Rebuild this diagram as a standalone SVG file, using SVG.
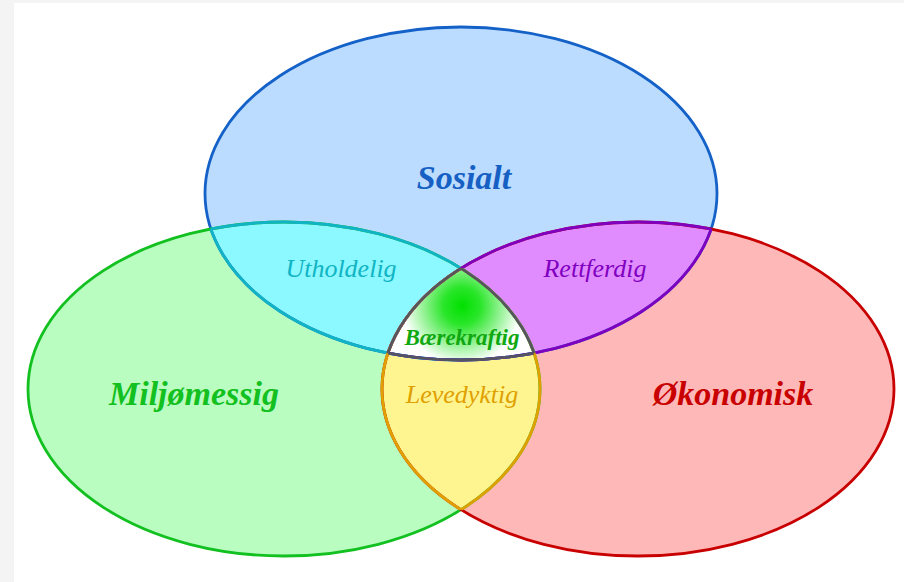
<svg xmlns="http://www.w3.org/2000/svg" width="904" height="582" viewBox="0 0 904 582">
<style>
.lbl{font-family:"Liberation Serif","Times New Roman",serif;font-style:italic;text-anchor:middle}
.big{font-size:34px;font-weight:bold}
.mid{font-size:26px}
.sw{stroke-width:2.8;fill:none}
</style>
<defs>
<clipPath id="cT"><ellipse cx="461" cy="193.5" rx="256" ry="166.5"/></clipPath>
<clipPath id="cL"><ellipse cx="284" cy="389" rx="256" ry="167"/></clipPath>
<clipPath id="cR"><ellipse cx="638" cy="389" rx="256" ry="167"/></clipPath>
<radialGradient id="gC" gradientUnits="userSpaceOnUse" cx="462" cy="306" r="62">
<stop offset="0" stop-color="#00e000"/>
<stop offset="0.3" stop-color="#2ae62a"/>
<stop offset="0.95" stop-color="#ffffff"/>
<stop offset="1" stop-color="#ffffff"/>
</radialGradient>
<ellipse id="eT" cx="461" cy="193.5" rx="256" ry="166.5"/>
<ellipse id="eL" cx="284" cy="389" rx="256" ry="167"/>
<ellipse id="eR" cx="638" cy="389" rx="256" ry="167"/>
</defs>
<rect width="904" height="582" fill="#f4f4f4"/>
<rect x="14" y="3" width="890" height="579" fill="#ffffff"/>

<g id="sosialt">
<use href="#eT" fill="#bbdcff"/>
</g>
<g id="miljomessig">
<use href="#eL" fill="#b9fdc0"/>
</g>
<g id="okonomisk">
<use href="#eR" fill="#ffb8b8"/>
</g>
<g id="utholdelig">
<use href="#eT" fill="#8cf8ff" clip-path="url(#cL)"/>
</g>
<g id="rettferdig">
<use href="#eT" fill="#e08cff" clip-path="url(#cR)"/>
</g>
<g id="levedyktig">
<use href="#eL" fill="#fff590" clip-path="url(#cR)"/>
</g>
<g id="baerekraftig" clip-path="url(#cL)">
<use href="#eT" fill="url(#gC)" clip-path="url(#cR)"/>
</g>

<g id="connectors">
<use href="#eT" class="sw" stroke="#1461c8"/>
<use href="#eL" class="sw" stroke="#12c020"/>
<use href="#eR" class="sw" stroke="#c80000"/>
<use href="#eT" class="sw" stroke="#10b4c4" clip-path="url(#cL)"/>
<use href="#eL" class="sw" stroke="#10b4c4" clip-path="url(#cT)"/>
<use href="#eT" class="sw" stroke="#8000c0" clip-path="url(#cR)"/>
<use href="#eR" class="sw" stroke="#8000c0" clip-path="url(#cT)"/>
<use href="#eL" class="sw" stroke="#e0a000" clip-path="url(#cR)"/>
<use href="#eR" class="sw" stroke="#e0a000" clip-path="url(#cL)"/>
<g clip-path="url(#cL)"><use href="#eT" class="sw" stroke="#555560" clip-path="url(#cR)"/></g>
<g clip-path="url(#cT)"><use href="#eL" class="sw" stroke="#555560" clip-path="url(#cR)"/></g>
<g clip-path="url(#cT)"><use href="#eR" class="sw" stroke="#555560" clip-path="url(#cL)"/></g>
</g>

<g id="labels">
<text class="lbl big" x="464" y="189" fill="#1660c4">Sosialt</text>
<text class="lbl big" x="194" y="405" font-size="35" fill="#12c020">Miljømessig</text>
<text class="lbl big" x="733" y="405" fill="#c80000">Økonomisk</text>
<text class="lbl mid" x="341" y="277" fill="#10b4c4">Utholdelig</text>
<text class="lbl mid" x="595" y="277" fill="#8000c0">Rettferdig</text>
<text class="lbl mid" x="462" y="403" fill="#e0a000">Levedyktig</text>
<text class="lbl" x="462" y="345" font-size="23" font-weight="bold" fill="#10a810">Bærekraftig</text>
</g>
</svg>
